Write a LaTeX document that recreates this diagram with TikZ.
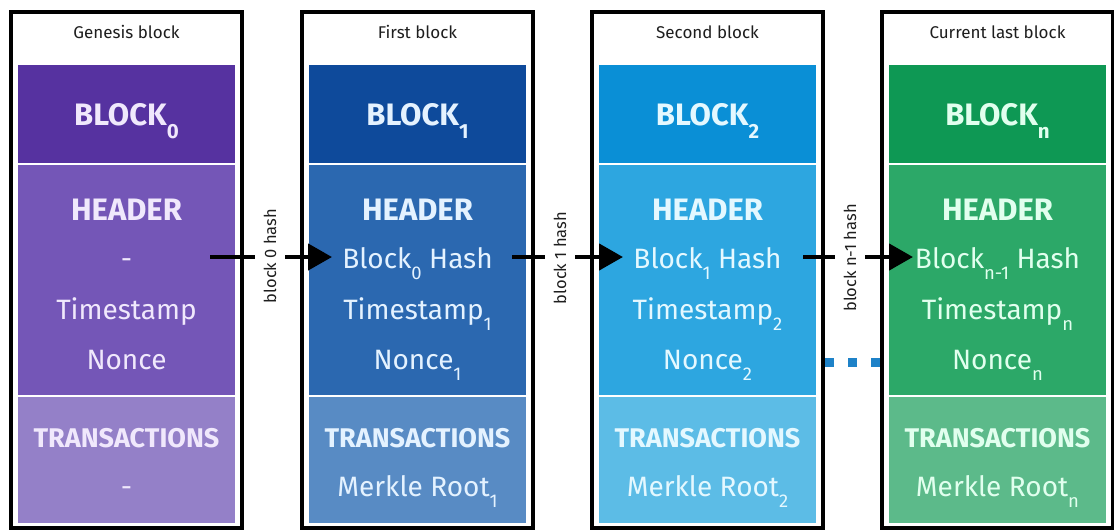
\documentclass[tikz,border=0pt]{standalone}
\usepackage{fontspec}
\setmainfont{Fira Sans}
\usetikzlibrary{arrows.meta}
\newcommand\sbx[1]{\raisebox{-0.42em}{\scalebox{0.66}{#1}}}
\definecolor{colA1}{RGB}{86,50,160}
\definecolor{colB1}{RGB}{116,86,183}
\definecolor{colC1}{RGB}{148,128,200}
\definecolor{txt1}{RGB}{240,232,252}
\definecolor{colA2}{RGB}{14,74,155}
\definecolor{colB2}{RGB}{43,104,176}
\definecolor{colC2}{RGB}{88,139,196}
\definecolor{txt2}{RGB}{228,242,255}
\definecolor{colA3}{RGB}{10,143,214}
\definecolor{colB3}{RGB}{45,166,224}
\definecolor{colC3}{RGB}{92,188,230}
\definecolor{txt3}{RGB}{228,248,255}
\definecolor{colA4}{RGB}{14,152,84}
\definecolor{colB4}{RGB}{44,168,104}
\definecolor{colC4}{RGB}{92,186,138}
\definecolor{txt4}{RGB}{225,255,238}
\definecolor{dotblue}{RGB}{30,130,200}
\definecolor{ink}{RGB}{30,30,30}
\tikzset{
  frame/.style={draw=black, line width=4pt},
  ttl/.style={anchor=base, inner sep=0pt, text=ink, font=\fontsize{17}{20}\selectfont},
  bigtxt/.style={anchor=base, inner sep=0pt, font=\fontsize{31}{36}\selectfont\bfseries},
  plaintxt/.style={anchor=base, inner sep=0pt, font=\fontsize{28}{33}\selectfont},
  trtxt/.style={anchor=base, inner sep=0pt, font=\fontsize{27}{32}\selectfont\bfseries},
  hashlabel/.style={rotate=90, fill=white, inner xsep=2pt, inner ysep=9pt, text=ink, font=\fontsize{16.5}{19}\selectfont},
  link/.style={draw=black, line width=4.5pt, -{Triangle[length=24pt,width=26pt]}},
  dots/.style={draw=dotblue, line width=9pt, dash pattern=on 9pt off 14pt}
}
\begin{document}
\begin{tikzpicture}[x=1pt,y=-1pt]
\useasboundingbox (0,0) rectangle (1114,531);
\fill[white] (0,0) rectangle (1114,531);
\foreach \i/\L/\ttlt/\blk/\la/\lb/\lc/\tr in {
  1/11/{Genesis block}/{BLOCK\sbx{0}}/{-}/{Timestamp}/{Nonce}/{-},
  2/302/{First block}/{BLOCK\sbx{1}}/{Block\sbx{0} Hash}/{Timestamp\sbx{1}}/{Nonce\sbx{1}}/{Merkle Root\sbx{1}},
  3/592/{Second block}/{BLOCK\sbx{2}}/{Block\sbx{1} Hash}/{Timestamp\sbx{2}}/{Nonce\sbx{2}}/{Merkle Root\sbx{2}},
  4/882/{Current last block}/{BLOCK\sbx{n}}/{Block\sbx{n-1} Hash}/{Timestamp\sbx{n}}/{Nonce\sbx{n}}/{Merkle Root\sbx{n}}}
{
  \pgfmathsetmacro\cx{\L+115.5}
  \pgfmathsetmacro\fl{\L+7}
  \pgfmathsetmacro\fr{\L+224}
  \pgfmathsetmacro\R{\L+231}
  \fill[colA\i] (\fl,65) rectangle (\fr,163);
  \fill[colB\i] (\fl,164.5) rectangle (\fr,395);
  \fill[colC\i] (\fl,396.5) rectangle (\fr,523);
  \draw[frame] (\L,12) rectangle (\R,528);
  \node[ttl] (title\i) at (\cx,38) {\ttlt};
  \node[bigtxt, text=txt\i] (block\i) at (\cx,125) {\blk};
  \node[bigtxt, text=txt\i] (header\i) at (\cx,220) {HEADER};
  \node[plaintxt, text=txt\i] (prev\i) at (\cx,268) {\la};
  \node[plaintxt, text=txt\i] (time\i) at (\cx,319) {\lb};
  \node[plaintxt, text=txt\i] (nonce\i) at (\cx,369) {\lc};
  \node[trtxt, text=txt\i] (trans\i) at (\cx,447) {TRANSACTIONS};
  \node[plaintxt, text=txt\i] (merkle\i) at (\cx,496) {\tr};
}
% hash links
\coordinate (s1) at (210,257); \coordinate (e1) at (332,257);
\coordinate (s2) at (512,257); \coordinate (e2) at (623,257);
\coordinate (s3) at (803,257); \coordinate (e3) at (913,257);
\draw[link] (s1) -- (e1);
\draw[link] (s2) -- (e2);
\draw[link] (s3) -- (e3);
\node[hashlabel] (h1) at (270,256) {block 0 hash};
\node[hashlabel] (h2) at (560,258) {block 1 hash};
\node[hashlabel] (h3) at (850,258) {block n-1 hash};
% dotted continuation
\coordinate (d1) at (825,362); \coordinate (d2) at (882,362);
\draw[dots] (d1) -- (d2);
\end{tikzpicture}
\end{document}
